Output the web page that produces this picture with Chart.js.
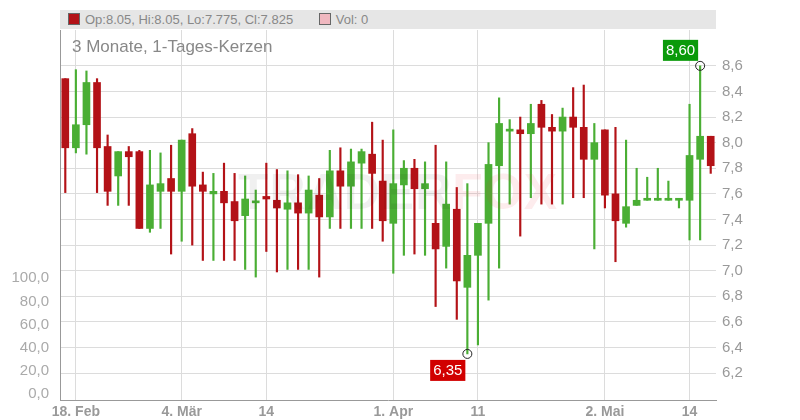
<!DOCTYPE html>
<html><head><meta charset="utf-8">
<script src="https://cdn.jsdelivr.net/npm/chart.js@4"></script>
<style>
body{margin:0;background:#fff;font-family:"Liberation Sans",Arial,sans-serif}
#wrap{position:relative;width:800px;height:420px}
#leg{position:absolute;left:60px;top:10px;width:656px;height:19px;background:#e6e6e6;font-size:13px;color:#888;line-height:19px}
.box{display:inline-block;width:10px;height:10px;border:1px solid #666;vertical-align:-1px;margin:0 5px 0 8px}
#sub{position:absolute;left:72px;top:37px;font-size:17px;color:#888}
#wm{position:absolute;left:238px;top:163px;font-size:50px;font-weight:bold;color:rgba(0,0,0,0.06);letter-spacing:1px}
#wm span{color:rgba(230,40,50,0.09)}
</style></head>
<body><div id="wrap"><canvas id="c" width="800" height="420"></canvas>
<div id="leg"><span class="box" style="background:#b31217"></span>Op:8.05, Hi:8.05, Lo:7.775, Cl:7.825 <span class="box" style="background:#f0b8c0;margin-left:22px"></span>Vol: 0</div>
<div id="sub">3 Monate, 1-Tages-Kerzen</div>
<div id="wm">TRADER<span>FOX</span></div>
</div>
<script>
// open, high, low, close per daily candle
const opens  = [8.50,7.96,8.14,8.47,7.97,7.74,7.93,7.93,7.33,7.62,7.72,7.62,8.07,7.67,7.60,7.62,7.54,7.43,7.53,7.58,7.55,7.48,7.53,7.45,7.59,7.42,7.78,7.66,7.84,7.91,7.70,7.37,7.67,7.80,7.64,7.37,7.19,7.48,6.87,7.12,7.37,7.82,8.09,8.10,8.07,8.30,8.12,8.09,8.20,8.12,7.87,8.10,7.60,7.37,7.51,7.55,7.55,7.55,7.55,7.55,7.87,8.05];
const highs  = [8.50,8.57,8.56,8.50,8.06,7.93,7.97,7.94,7.94,7.92,7.98,8.02,8.11,7.77,7.76,7.84,7.76,7.74,7.63,7.84,7.79,7.78,7.75,7.74,7.72,7.94,7.96,7.95,7.95,8.16,8.02,8.10,7.86,7.87,7.85,7.98,7.85,7.65,7.68,7.37,8.00,8.35,8.18,8.20,8.30,8.33,8.22,8.27,8.43,8.45,8.15,8.10,8.12,8.02,7.80,7.73,7.80,7.70,7.55,8.30,8.60,8.05];
const lows   = [7.61,7.92,7.91,7.61,7.51,7.51,7.51,7.33,7.30,7.33,7.13,7.23,7.20,7.08,7.08,7.08,7.08,7.01,6.95,7.15,6.99,7.01,7.01,7.01,6.95,7.33,7.33,7.33,7.33,7.33,7.23,6.98,7.12,7.13,7.12,6.72,7.02,6.62,6.35,6.42,6.77,7.02,7.52,7.27,7.57,7.52,7.52,7.52,7.57,7.57,7.17,7.49,7.07,7.34,7.51,7.55,7.55,7.55,7.49,7.24,7.24,7.76];
const closes = [7.96,8.14,8.47,7.96,7.62,7.93,7.89,7.33,7.67,7.68,7.62,8.02,7.66,7.62,7.62,7.53,7.39,7.56,7.54,7.56,7.49,7.53,7.45,7.63,7.42,7.78,7.66,7.85,7.93,7.76,7.39,7.68,7.80,7.64,7.68,7.17,7.52,6.92,7.12,7.37,7.83,8.15,8.10,8.07,8.15,8.12,8.09,8.20,8.12,7.87,8.00,7.59,7.39,7.50,7.55,7.55,7.55,7.55,7.55,7.90,8.05,7.82];
const volumes = new Array(62).fill(0);
const dayLabels = {1:'18. Feb',11:'4. Mär',19:'14',31:'1. Apr',39:'11',51:'2. Mai',59:'14'};
const priceTicks = [6.2,6.4,6.6,6.8,7.0,7.2,7.4,7.6,7.8,8.0,8.2,8.4,8.6];
const volTicks = [0,20,40,60,80,100];
const hiIdx = 60, loIdx = 38;

const RED = '#b31217', GREEN = '#4aae34';
const labels = opens.map((_, i) => dayLabels[i] || '');
const col = opens.map((o, i) => closes[i] >= o ? GREEN : RED);

const markers = {
  id: 'markers',
  afterDatasetsDraw(chart) {
    const c = chart.ctx, x = chart.scales.x, y = chart.scales.y;
    const tag = (i, v, bg, above) => {
      const px = x.getPixelForValue(i), py = y.getPixelForValue(v);
      c.save();
      c.strokeStyle = '#222'; c.lineWidth = 1;
      c.beginPath(); c.arc(px, py, 4.5, 0, Math.PI * 2); c.stroke();
      const t = v.toFixed(2).replace('.', ',');
      c.font = '15px "Liberation Sans"';
      const w = c.measureText(t).width + 6;
      const bx = px - w - 2, by = above ? py - 26 : py + 6;
      c.fillStyle = bg; c.fillRect(bx, by, w, 21);
      c.fillStyle = '#fff'; c.textBaseline = 'middle';
      c.fillText(t, bx + 3, by + 11);
      c.restore();
    };
    tag(hiIdx, highs[hiIdx], '#0a9a0a', true);
    tag(loIdx, lows[loIdx], '#d10000', false);
  }
};

new Chart(document.getElementById('c'), {
  type: 'bar',
  data: {
    labels,
    datasets: [
      { data: opens.map((o, i) => [lows[i], highs[i]]), backgroundColor: col, barThickness: 1.5, grouped: false, yAxisID: 'y', order: 2 },
      { data: opens.map((o, i) => [o, closes[i]]), backgroundColor: col, barThickness: 7, grouped: false, minBarLength: 2, yAxisID: 'y', order: 1 },
      { data: volumes, backgroundColor: '#f0b8c0', grouped: false, yAxisID: 'yv', order: 3 }
    ]
  },
  options: {
    responsive: false, animation: false,
    layout: { padding: { top: 30, right: 0, left: 0, bottom: 0 } },
    plugins: { legend: { display: false }, tooltip: { enabled: false } },
    scales: {
      x: {
        offset: true,
        grid: { offset: false, color: ctx => (ctx.tick && labels[ctx.tick.value]) ? '#dcdcdc' : 'transparent', drawTicks: false },
        border: { color: '#999' },
        ticks: { autoSkip: false, maxRotation: 0, color: '#999', font: { size: 14, weight: 'bold', family: 'Liberation Sans' }, padding: 4,
                 callback: (v) => labels[v] },
        afterFit: s => { s.height = 20; }
      },
      y: {
        position: 'right', min: 5.99, max: 8.88,
        afterBuildTicks: s => { s.ticks = priceTicks.map(v => ({ value: v })); },
        grid: { color: '#dcdcdc', drawTicks: false },
        border: { display: false },
        ticks: { color: '#999', font: { size: 15, family: 'Liberation Sans' }, padding: 6,
                 callback: v => v.toFixed(1).replace('.', ',') },
        afterFit: s => { s.width = 84; }
      },
      yv: {
        position: 'left', min: -5, max: 314,
        afterBuildTicks: s => { s.ticks = volTicks.map(v => ({ value: v })); },
        grid: { display: false },
        border: { color: '#999' },
        ticks: { color: '#aaa', font: { size: 15, family: 'Liberation Sans' }, padding: 3,
                 callback: v => v.toFixed(1).replace('.', ',') },
        afterFit: s => { s.width = 60; }
      }
    }
  },
  plugins: [markers]
});
</script></body></html>
